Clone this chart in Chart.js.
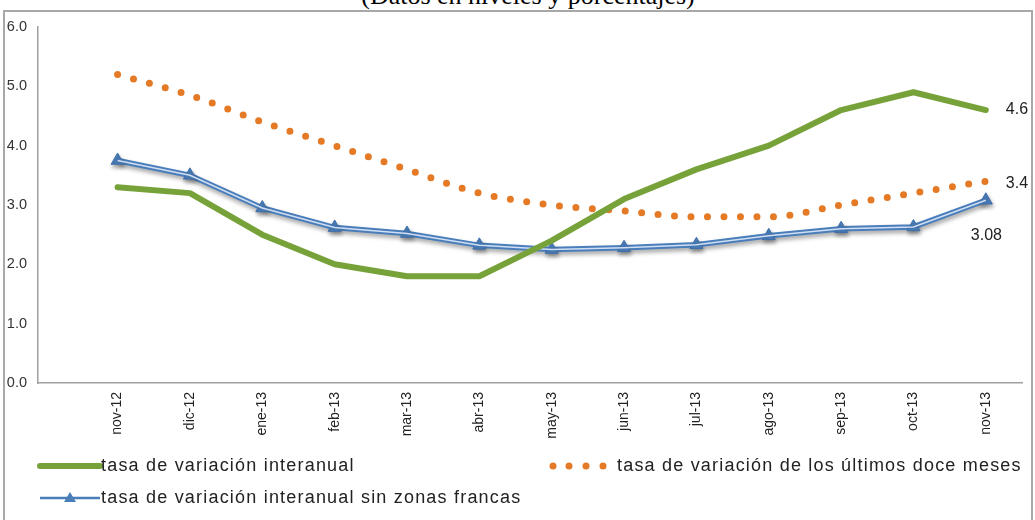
<!DOCTYPE html>
<html><head><meta charset="utf-8">
<script src="https://cdn.jsdelivr.net/npm/chart.js@4.4.1/dist/chart.umd.min.js"></script>
<style>
html,body{margin:0;padding:0;background:#fff;overflow:hidden;width:1035px;height:520px;}
#frame{position:absolute;left:3px;top:10px;width:1030px;height:520px;border:2px solid #a8a8a8;box-sizing:border-box;}
#title{position:absolute;left:0;width:1056px;top:-19px;text-align:center;font-family:"Liberation Serif","DejaVu Serif",serif;font-size:26px;line-height:30px;color:#000;white-space:nowrap;}
#wrap{position:absolute;left:0;top:0;width:1035px;height:520px;}
</style></head><body>
<div id="title">(Datos en niveles y porcentajes)</div>
<div id="frame"></div>
<div id="wrap"><canvas id="c" width="1035" height="520"></canvas></div>
<script>
const categories = ['nov-12','dic-12','ene-13','feb-13','mar-13','abr-13','may-13','jun-13','jul-13','ago-13','sep-13','oct-13','nov-13'];
const interanual = [3.3,3.2,2.5,2.0,1.8,1.8,2.4,3.1,3.6,4.0,4.6,4.9,4.6];
const doceMeses = [5.2,4.85,4.4,4.0,3.6,3.2,3.0,2.9,2.8,2.8,3.0,3.2,3.4];
const sinZonas = [3.75,3.5,2.95,2.62,2.52,2.32,2.25,2.28,2.33,2.48,2.6,2.63,3.08];
const yTicks = [0,1,2,3,4,5,6];
const seriesNames = ['tasa de variación interanual','tasa de variación de los últimos doce meses','tasa de variación interanual sin zonas francas'];

const GREEN = '#77a23a', ORANGE = '#e47a26', BLUE = '#4a7ebb';
const toXY = arr => arr.map((v,i)=>({x:i,y:v}));

const shadowPlugin = {
  id:'shadow',
  beforeDatasetDraw(chart, args){
    if (args.index === 2){
      const ctx = chart.ctx; ctx.save();
      ctx.shadowColor='rgba(0,0,0,0.35)'; ctx.shadowOffsetY=3; ctx.shadowOffsetX=1; ctx.shadowBlur=4;
    }
  },
  afterDatasetDraw(chart, args){ if (args.index === 2) chart.ctx.restore(); }
};

const endLabels = {
  id:'endLabels',
  afterDatasetsDraw(chart){
    const ctx = chart.ctx; ctx.save();
    ctx.font = '16px "Liberation Sans", Arial, sans-serif';
    ctx.fillStyle = '#222'; ctx.textBaseline='middle'; ctx.textAlign='left';
    const specs = [[0,1,20,0],[1,1,20,2],[2,2,-15,35]];
    specs.forEach(([di,dec,dx,dy])=>{
      const meta = chart.getDatasetMeta(di);
      const p = meta.data[meta.data.length-1];
      const v = chart.data.datasets[di].data[meta.data.length-1].y;
      ctx.fillText(v.toFixed(dec), p.x+dx, p.y+dy);
    });
    ctx.restore();
  }
};

const legendPlugin = {
  id:'customLegend',
  afterDraw(chart){
    const ctx = chart.ctx; ctx.save();
    ctx.font = '18px "Liberation Sans", Arial, sans-serif';
    try{ ctx.letterSpacing = '1.2px'; }catch(e){}
    ctx.fillStyle='#222'; ctx.textBaseline='middle'; ctx.textAlign='left';
    // green
    ctx.strokeStyle=GREEN; ctx.lineWidth=6; ctx.lineCap='round';
    ctx.beginPath(); ctx.moveTo(40,466); ctx.lineTo(100,466); ctx.stroke();
    ctx.fillText(seriesNames[0],101,466);
    // orange
    ctx.fillStyle=ORANGE;
    [553,569,586,603].forEach(x=>{ctx.beginPath();ctx.arc(x,466,3.5,0,Math.PI*2);ctx.fill();});
    ctx.fillStyle='#222';
    ctx.fillText(seriesNames[1],617,466);
    // blue
    ctx.strokeStyle=BLUE; ctx.lineWidth=2.5; ctx.lineCap='butt';
    ctx.beginPath(); ctx.moveTo(40,498); ctx.lineTo(100,498); ctx.stroke();
    ctx.fillStyle=BLUE; ctx.beginPath(); ctx.moveTo(70,492); ctx.lineTo(76,502); ctx.lineTo(64,502); ctx.closePath(); ctx.fill();
    ctx.fillStyle='#222';
    ctx.fillText(seriesNames[2],101,498);
    ctx.restore();
  }
};

new Chart(document.getElementById('c'), {
  type:'line',
  data:{
    datasets:[
      {label:seriesNames[0], data:toXY(interanual), borderColor:GREEN, borderWidth:6, pointRadius:0, tension:0, borderCapStyle:'round', borderJoinStyle:'round'},
      {label:seriesNames[1], data:toXY(doceMeses), borderColor:ORANGE, borderWidth:7, borderDash:[0,16.5], borderCapStyle:'round', pointRadius:0, cubicInterpolationMode:'monotone', tension:0.4},
      {label:seriesNames[2], data:toXY(sinZonas), borderColor:BLUE, borderWidth:5.5, pointStyle:'triangle', pointRadius:7.5, pointBackgroundColor:BLUE, pointBorderColor:'#3f70aa', pointBorderWidth:1, tension:0, order:1},
      {label:'', data:toXY(sinZonas), borderColor:'rgba(215,228,245,0.95)', borderWidth:1.5, pointRadius:0, tension:0}
    ]
  },
  options:{
    responsive:false, animation:false,
    layout:{padding:{top:27,right:13,bottom:77,left:0}},
    plugins:{legend:{display:false}, tooltip:{enabled:false}},
    scales:{
      x:{type:'linear', min:-1.1, max:12.5,
        afterBuildTicks(s){ s.ticks = categories.map((c,i)=>({value:i})); },
        afterFit(s){ s.height = 60; },
        grid:{display:false, drawTicks:false},
        border:{display:true, color:'#a0a0a0', width:1.5},
        ticks:{autoSkip:false, minRotation:90, maxRotation:90, padding:9, color:'#222',
          font:{family:'"Liberation Sans", Arial, sans-serif', size:14},
          callback:(v)=>categories[v]}
      },
      y:{min:0, max:6,
        afterBuildTicks(s){ s.ticks = yTicks.map(v=>({value:v})); },
        afterFit(s){ s.width = 38; },
        grid:{display:false, drawTicks:false},
        border:{display:true, color:'#a0a0a0', width:1.5},
        ticks:{padding:11, color:'#333', font:{family:'"Liberation Sans", Arial, sans-serif', size:14.5},
          callback:(v)=>Number(v).toFixed(1)}
      }
    }
  },
  plugins:[shadowPlugin, endLabels, legendPlugin]
});
</script>
</body></html>
